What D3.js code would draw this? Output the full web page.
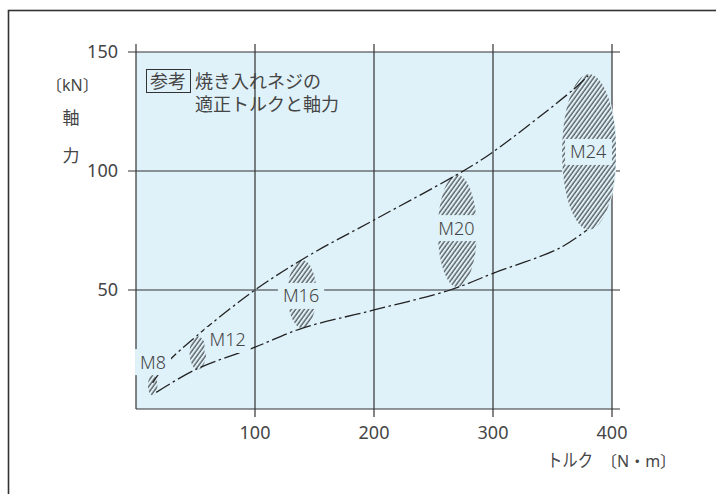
<!DOCTYPE html>
<html>
<head>
<meta charset="utf-8">
<script src="https://cdn.jsdelivr.net/npm/d3@7"></script>
<style>
  body { margin: 0; background: #fff; }
  text { font-family: "Noto Sans", "Noto Sans CJK JP", sans-serif; fill: #454545; }
</style>
</head>
<body>
<div id="chartWrapper"></div>
<script>
// torque [N·m] vs axial force [kN]
var xTicks = [0, 100, 200, 300, 400];
var yTicks = [0, 50, 100, 150];

// upper boundary (chain line)
var upperTorque = [14, 26, 51, 100, 146, 200, 275, 300, 367, 380];
var upperForce = [11, 19.3, 30.7, 50, 64.7, 79.4, 100, 108, 134, 140];

// lower boundary
var lowerTorque = [17, 51, 100, 140, 200, 264, 300, 356, 379];
var lowerForce = [7, 16.8, 26, 34, 41.6, 50, 57, 67.6, 75.2];

// hatched ranges per screw size
var sizes = ["M8", "M12", "M16", "M20", "M24"];
var sizeTorque = [14, 52, 139.5, 270, 380.7];
var sizeForce = [10, 23.5, 48.3, 74.8, 108];
var torqueSpread = [4, 7, 12.2, 16.4, 22.7];
var forceSpread = [4.3, 7, 14.3, 23.5, 32.6];
var labelTorque = [14.3, 77, 138.7, 269.3, 380];
var labelForce = [19.7, 29, 47.5, 76, 108];

var width = 716;
var height = 494;
var margin = {left: 136, right: 104, top: 52, bottom: 85};
var bg = "#dff1f9";
var ink = "#333";

var x = d3.scaleLinear().domain([0, 400]).range([margin.left, width - margin.right]);
var y = d3.scaleLinear().domain([0, 150]).range([height - margin.bottom, margin.top]);

var svg = d3.select("#chartWrapper").append("svg")
  .attr("width", width)
  .attr("height", height);

// outer frame (runs off the right/bottom edge)
svg.append("rect")
  .attr("x", 8.5).attr("y", 10.5)
  .attr("width", 760).attr("height", 540)
  .attr("fill", "none")
  .attr("stroke", ink)
  .attr("stroke-width", 1.6);

var defs = svg.append("defs");
defs.append("pattern")
  .attr("id", "hatch")
  .attr("patternUnits", "userSpaceOnUse")
  .attr("width", 3.5).attr("height", 10)
  .attr("patternTransform", "rotate(36)")
  .append("line")
  .attr("x1", 1).attr("y1", 0).attr("x2", 1).attr("y2", 10)
  .attr("stroke", "#222")
  .attr("stroke-width", 1);

defs.append("clipPath").attr("id", "plotClip")
  .append("rect")
  .attr("x", x(0)).attr("y", y(150) - 4)
  .attr("width", x(400) - x(0) + 4).attr("height", y(0) - y(150) + 4);

// plot background
svg.append("rect")
  .attr("x", x(0)).attr("y", y(150))
  .attr("width", x(400) - x(0)).attr("height", y(0) - y(150))
  .attr("fill", bg);

// grid lines with outward ticks
var grid = svg.append("g").attr("stroke", ink).attr("stroke-width", 1.2);
grid.selectAll(".vline")
  .data(xTicks)
  .enter()
  .append("line")
  .attr("x1", function(d) { return x(d); })
  .attr("x2", function(d) { return x(d); })
  .attr("y1", y(150) - 8)
  .attr("y2", function(d) { return d === 0 ? y(0) : y(0) + 8; });
grid.selectAll(".hline")
  .data(yTicks)
  .enter()
  .append("line")
  .attr("y1", function(d) { return y(d); })
  .attr("y2", function(d) { return y(d); })
  .attr("x1", function(d) { return d === 0 ? x(0) : x(0) - 8; })
  .attr("x2", x(400) + 8);

// tick labels
svg.selectAll(".xlab")
  .data(xTicks.slice(1))
  .enter()
  .append("text")
  .attr("x", function(d) { return x(d); })
  .attr("y", y(0) + 30)
  .attr("text-anchor", "middle")
  .style("font-size", "18px")
  .text(function(d) { return d; });
svg.selectAll(".ylab")
  .data(yTicks.slice(1))
  .enter()
  .append("text")
  .attr("x", x(0) - 18)
  .attr("y", function(d) { return y(d); })
  .attr("dy", "0.35em")
  .attr("text-anchor", "end")
  .style("font-size", "18px")
  .text(function(d) { return d; });

// hatched ranges
var blobs = svg.append("g").attr("clip-path", "url(#plotClip)");
sizes.forEach(function(s, i) {
  var cx = x(sizeTorque[i]), cy = y(sizeForce[i]);
  var rx = x(sizeTorque[i] + torqueSpread[i]) - cx;
  var ry = cy - y(sizeForce[i] + forceSpread[i]);
  blobs.append("ellipse")
    .attr("cx", cx).attr("cy", cy).attr("rx", rx + 1).attr("ry", ry)
    .attr("fill", bg);
  blobs.append("ellipse")
    .attr("cx", cx).attr("cy", cy).attr("rx", rx).attr("ry", ry)
    .attr("fill", "url(#hatch)");
});

// boundary curves
var line = d3.line()
  .x(function(d) { return x(d[0]); })
  .y(function(d) { return y(d[1]); })
  .curve(d3.curveCatmullRom);

svg.append("path")
  .attr("d", line(d3.zip(upperTorque, upperForce)))
  .attr("fill", "none")
  .attr("stroke", "#222")
  .attr("stroke-width", 1.3)
  .attr("stroke-dasharray", "14,3.5,2.5,3.5");
svg.append("path")
  .attr("d", line(d3.zip(lowerTorque, lowerForce)))
  .attr("fill", "none")
  .attr("stroke", "#222")
  .attr("stroke-width", 1.3)
  .attr("stroke-dasharray", "16,3.5,2.5,3.5");

// size labels with knocked-out background
sizes.forEach(function(s, i) {
  var g = svg.append("g");
  var t = g.append("text")
    .attr("x", x(labelTorque[i]))
    .attr("y", y(labelForce[i]))
    .attr("dy", "0.36em")
    .attr("text-anchor", "middle")
    .style("font-size", "18px")
    .style("font-weight", 300)
    .text(s);
  var bb = t.node().getBBox();
  g.insert("rect", "text")
    .attr("x", bb.x - 5).attr("y", y(labelForce[i]) - 13)
    .attr("width", bb.width + 10).attr("height", 26)
    .attr("fill", bg);
});

// note box
svg.append("rect")
  .attr("x", 146.5).attr("y", 69.5)
  .attr("width", 44).attr("height", 23)
  .attr("fill", "none")
  .attr("stroke", ink)
  .attr("stroke-width", 1);
svg.append("text").attr("x", 150).attr("y", 88).style("font-size", "18px").text("参考");
svg.append("text").attr("x", 195).attr("y", 88).style("font-size", "18px").text("焼き入れネジの");
svg.append("text").attr("x", 195).attr("y", 111).style("font-size", "18px").text("適正トルクと軸力");

// axis titles
svg.append("text").attr("x", 46).attr("y", 91)
  .style("font-size", "16px").text("〔kN〕");
svg.append("text").attr("x", 71).attr("y", 124).attr("text-anchor", "middle")
  .style("font-size", "17px").text("軸");
svg.append("text").attr("x", 71).attr("y", 162).attr("text-anchor", "middle")
  .style("font-size", "17px").text("力");
svg.append("text").attr("x", 547).attr("y", 467)
  .attr("textLength", 46).attr("lengthAdjust", "spacingAndGlyphs")
  .style("font-size", "18px").text("トルク");
svg.append("text").attr("x", 601).attr("y", 467)
  .style("font-size", "16px").text("〔N・m〕");
</script>
</body>
</html>
